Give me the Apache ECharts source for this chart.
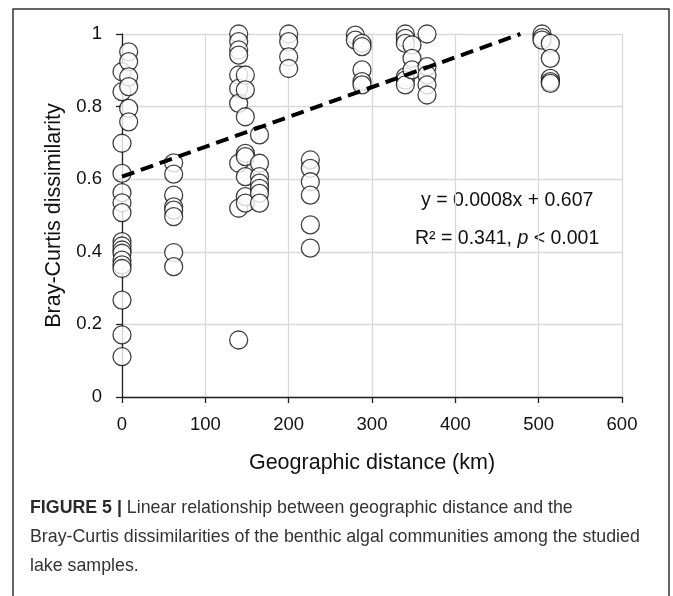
<!DOCTYPE html>
<html>
<head>
<meta charset="utf-8">
<script src="https://cdn.jsdelivr.net/npm/echarts@6/dist/echarts.min.js"></script>
<style>
  html, body { margin: 0; padding: 0; background: #fff; }
  #chart { width: 673px; height: 596px; }
</style>
</head>
<body>
<div id="chart"></div>
<script>
// geographic distance (km) and Bray-Curtis dissimilarity
var distanceKm = [
  0, 0, 0, 0, 0, 0, 0, 0, 0, 0, 0, 0, 0, 0, 0, 0, 0,
  8, 8, 8, 8, 8, 8,
  62, 62, 62, 62, 62, 62, 62, 62,
  140, 140, 140, 140, 140, 140, 140, 140, 140, 140,
  148, 148, 148, 148, 148, 148, 148, 148,
  165, 165, 165, 165, 165, 165, 165,
  200, 200, 200, 200,
  226, 226, 226, 226, 226, 226,
  280, 280,
  288, 288, 288, 288, 288,
  340, 340, 340, 340, 340, 340,
  348, 348, 348,
  366, 366, 366, 366, 366,
  504, 504, 504,
  514, 514, 514, 514, 514
];
var dissimilarity = [
  0.896, 0.841, 0.699, 0.616, 0.563, 0.535, 0.508, 0.428, 0.416, 0.405, 0.396, 0.377, 0.364, 0.354, 0.267, 0.171, 0.111,
  0.951, 0.924, 0.882, 0.855, 0.795, 0.758,
  0.645, 0.614, 0.556, 0.524, 0.515, 0.497, 0.398, 0.359,
  1.0, 0.979, 0.956, 0.942, 0.887, 0.850, 0.809, 0.644, 0.520, 0.157,
  0.887, 0.846, 0.772, 0.671, 0.662, 0.607, 0.552, 0.534,
  0.722, 0.644, 0.607, 0.589, 0.575, 0.561, 0.534,
  1.0, 0.979, 0.937, 0.905,
  0.653, 0.630, 0.593, 0.556, 0.474, 0.410,
  0.997, 0.983,
  0.974, 0.965, 0.901, 0.869, 0.860,
  1.0, 0.988, 0.974, 0.882, 0.873, 0.860,
  0.970, 0.933, 0.901,
  1.0, 0.910, 0.887, 0.860, 0.832,
  1.0, 0.990, 0.983,
  0.974, 0.933, 0.878, 0.869, 0.864
];
// linear trend y = 0.0008x + 0.607 (drawn up to the top of the axis)
var trendX = [0, 478];
var trendY = [0.607, 1.0];

var xTicks = [0, 100, 200, 300, 400, 500, 600];
var yTicks = [0, 0.2, 0.4, 0.6, 0.8, 1];

var points = [];
for (var i = 0; i < distanceKm.length; i++) {
    points.push([distanceKm[i], dissimilarity[i]]);
}
var trend = [];
for (var j = 0; j < trendX.length; j++) {
    trend.push([trendX[j], trendY[j]]);
}

var font = 'Liberation Sans, Arial, sans-serif';
var myChart = echarts.init(document.getElementById('chart'));

var option = {
    animation: false,
    grid: { left: 122, right: 51, top: 34, bottom: 199 },
    xAxis: {
        type: 'value',
        min: xTicks[0],
        max: xTicks[xTicks.length - 1],
        interval: 100,
        name: 'Geographic distance (km)',
        nameLocation: 'middle',
        nameGap: 55,
        nameTextStyle: { fontFamily: font, fontSize: 21.5, color: '#111' },
        axisLine: { show: true, lineStyle: { color: '#222', width: 1.3 } },
        axisTick: { show: true, length: 6, lineStyle: { color: '#222', width: 1.3 } },
        axisLabel: { fontFamily: font, fontSize: 18.5, color: '#111', margin: 18 },
        splitLine: { show: true, lineStyle: { color: '#d9d9d9', width: 1.3 } }
    },
    yAxis: {
        type: 'value',
        min: yTicks[0],
        max: yTicks[yTicks.length - 1],
        interval: 0.2,
        name: 'Bray-Curtis dissimilarity',
        nameLocation: 'middle',
        nameGap: 48,
        nameTextStyle: { fontFamily: font, fontSize: 21.5, color: '#111' },
        axisLine: { show: true, lineStyle: { color: '#222', width: 1.3 } },
        axisTick: { show: true, length: 6, lineStyle: { color: '#222', width: 1.3 } },
        axisLabel: { fontFamily: font, fontSize: 18.5, color: '#111', margin: 20 },
        splitLine: { show: true, lineStyle: { color: '#d9d9d9', width: 1.3 } }
    },
    series: [
        {
            type: 'scatter',
            data: points,
            symbol: 'circle',
            symbolSize: 18,
            itemStyle: { color: '#fff', borderColor: '#111', borderWidth: 1.3 },
            z: 3
        },
        {
            type: 'line',
            data: trend,
            symbol: 'none',
            lineStyle: { color: '#000', width: 4, type: [13, 7] },
            z: 4
        }
    ],
    graphic: [
        {
            type: 'rect',
            shape: { x: 13, y: 9, width: 656, height: 620 },
            style: { fill: 'none', stroke: '#333', lineWidth: 1.5 },
            silent: true
        },
        {
            type: 'text',
            left: 421,
            top: 191,
            style: { text: 'y = 0.0008x + 0.607', font: '19.5px ' + font, fill: '#111' }
        },
        {
            type: 'text',
            left: 415,
            top: 229,
            style: {
                text: '{n|R² = 0.341, }{i|p}{n| < 0.001}',
                rich: {
                    n: { font: '19.5px ' + font, fill: '#111' },
                    i: { font: 'italic 19.5px ' + font, fill: '#111' }
                }
            }
        },
        {
            type: 'text',
            left: 30,
            top: 494,
            style: {
                text: '{b|FIGURE 5 | }{n|Linear relationship between geographic distance and the}\n' +
                      '{n|Bray-Curtis dissimilarities of the benthic algal communities among the studied}\n' +
                      '{n|lake samples.}',
                lineHeight: 29,
                rich: {
                    b: { font: 'bold 17.8px ' + font, fill: '#2a2a2a', lineHeight: 29 },
                    n: { font: '17.8px ' + font, fill: '#333', lineHeight: 29 }
                }
            }
        }
    ]
};

myChart.setOption(option);
</script>
</body>
</html>
